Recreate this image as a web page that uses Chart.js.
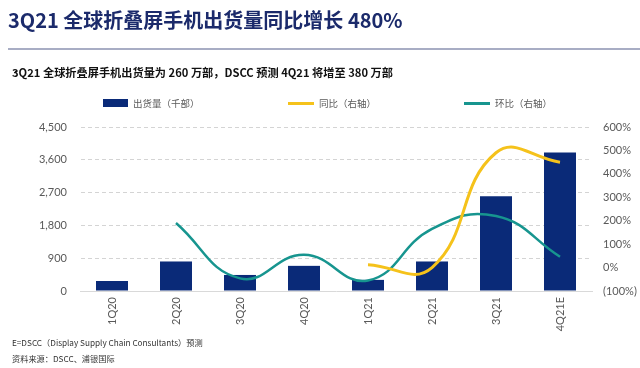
<!DOCTYPE html>
<html>
<head>
<meta charset="utf-8">
<title>3Q21 全球折叠屏手机出货量</title>
<script src="https://cdn.jsdelivr.net/npm/chart.js"></script>
<style>
  body { margin: 0; background: #fff; }
  #wrap { position: relative; width: 640px; height: 368px; overflow: hidden;
          font-family: "Noto Sans CJK SC", "Noto Sans", sans-serif; }
  #chart { position: absolute; left: 0; top: 0; }
  .title { position: absolute; left: 8px; top: 5px; font-size: 20px; font-weight: bold;
           color: #1b2a6b; white-space: nowrap; }
  .rule { position: absolute; left: 8px; top: 48px; width: 632px; height: 2px; background: #a8adc4; }
  .sub { position: absolute; left: 12px; top: 64px; font-size: 11.2px; font-weight: bold;
         color: #111; white-space: nowrap; }
  .legend { position: absolute; top: 96px; font-size: 9.5px; color: #595959; white-space: nowrap; }
  .legend i { display: inline-block; vertical-align: middle; margin-right: 5px; position: relative; top: -1px; }
  .note { position: absolute; left: 12px; font-size: 8.2px; color: #333; white-space: nowrap; }
</style>
</head>
<body>
<div id="wrap">
  <canvas id="chart" width="640" height="368"></canvas>
  <div class="title">3Q21 全球折叠屏手机出货量同比增长 480%</div>
  <div class="rule"></div>
  <div class="sub">3Q21 全球折叠屏手机出货量为 260 万部，DSCC 预测 4Q21 将增至 380 万部</div>
  <div class="legend" style="left:103px"><i style="width:25px;height:8px;background:#0a2a78"></i>出货量（千部）</div>
  <div class="legend" style="left:288px"><i style="width:26px;height:3px;background:#f5c21b"></i>同比（右轴）</div>
  <div class="legend" style="left:464px"><i style="width:26px;height:3px;background:#17958f"></i>环比（右轴）</div>
  <div class="note" style="top:336px">E=DSCC（Display Supply Chain Consultants）预测</div>
  <div class="note" style="top:352px">资料来源：DSCC、浦银国际</div>
</div>
<script>
// categories and series (shipments in thousand units, growth in %)
const quarters = ["1Q20", "2Q20", "3Q20", "4Q20", "1Q21", "2Q21", "3Q21", "4Q21E"];
const shipments = [275, 810, 440, 690, 305, 810, 2600, 3800];
const yoy = [null, null, null, null, 12, 0, 490, 450];
const qoq = [null, 190, -46, 55, -55, 165, 220, 46];

const leftTicks = [0, 900, 1800, 2700, 3600, 4500];
const rightTicks = [-100, 0, 100, 200, 300, 400, 500, 600];

const tickFont = { family: "Lato, 'Open Sans', sans-serif", size: 11 };

new Chart(document.getElementById("chart"), {
  data: {
    labels: quarters,
    datasets: [
      {
        type: "line",
        label: "同比（右轴）",
        data: yoy,
        yAxisID: "y2",
        borderColor: "#f5c21b",
        borderWidth: 3,
        pointRadius: 0,
        tension: 0.45,
        order: 0,
      },
      {
        type: "line",
        label: "环比（右轴）",
        data: qoq,
        yAxisID: "y2",
        borderColor: "#17958f",
        borderWidth: 2.5,
        pointRadius: 0,
        tension: 0.45,
        order: 1,
      },
      {
        type: "bar",
        label: "出货量（千部）",
        data: shipments,
        yAxisID: "y",
        backgroundColor: "#0a2a78",
        categoryPercentage: 1,
        barPercentage: 0.5,
        order: 2,
      },
    ],
  },
  options: {
    responsive: false,
    animation: false,
    layout: { padding: { top: 127, left: 0, right: 0, bottom: 0 } },
    plugins: {
      legend: { display: false },
      tooltip: { enabled: false },
    },
    scales: {
      x: {
        grid: { display: false, drawTicks: false },
        border: { color: "#d9d9d9" },
        ticks: { color: "#595959", font: tickFont, minRotation: 90, maxRotation: 90, padding: 6 },
        afterFit: (s) => { s.height = 77; },
      },
      y: {
        position: "left",
        min: 0,
        max: 4500,
        afterBuildTicks: (s) => { s.ticks = leftTicks.map((v) => ({ value: v })); },
        grid: { color: (c) => (c.tick && c.tick.value === 0 ? "rgba(0,0,0,0)" : "#d4d4d4"), drawTicks: false },
        border: { display: true, color: "rgba(0,0,0,0)", dash: [4, 3] },
        ticks: {
          color: "#595959",
          font: tickFont,
          padding: 13,
          callback: (v) => v.toLocaleString("en-US"),
        },
        afterFit: (s) => { s.width = 80; },
      },
      y2: {
        position: "right",
        min: -100,
        max: 600,
        afterBuildTicks: (s) => { s.ticks = rightTicks.map((v) => ({ value: v })); },
        grid: { drawOnChartArea: false, drawTicks: false },
        border: { display: false },
        ticks: {
          color: "#595959",
          font: tickFont,
          padding: 11,
          callback: (v) => (v < 0 ? "(" + Math.abs(v) + "%)" : v + "%"),
        },
        afterFit: (s) => { s.width = 48; },
      },
    },
  },
});
</script>
</body>
</html>
